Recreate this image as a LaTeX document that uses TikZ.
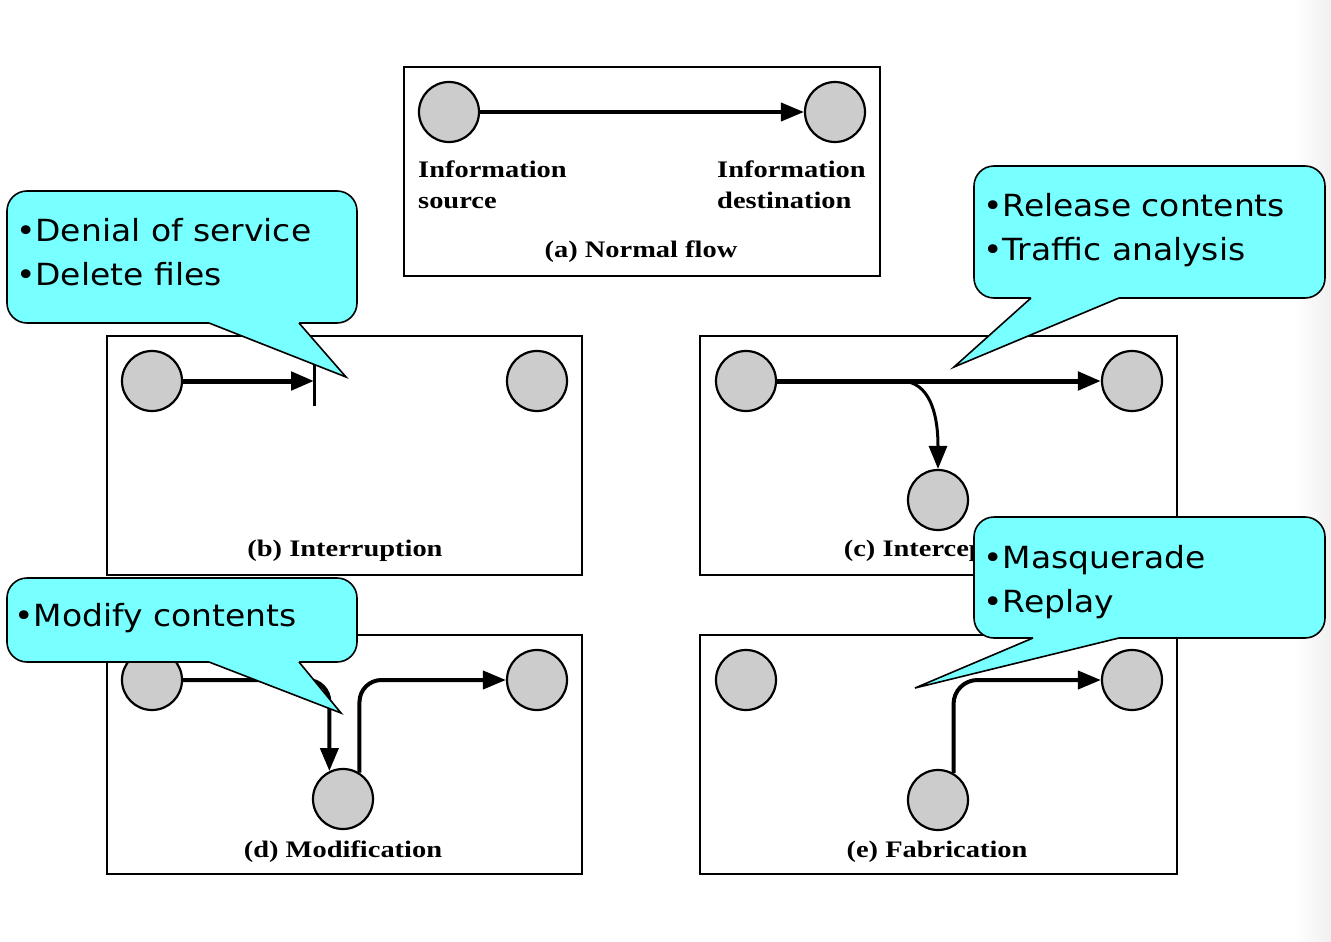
\documentclass[tikz,border=0pt]{standalone}
\usepackage{fontspec}
\usetikzlibrary{arrows.meta,shapes.geometric}
\newfontfamily\lblfont[FakeStretch=1.2]{Liberation Serif}
\newfontfamily\calfont[FakeStretch=1.08]{DejaVu Sans}
\definecolor{callcyan}{RGB}{120,255,255}
\definecolor{nodegray}{RGB}{204,204,204}
\begin{document}
\begin{tikzpicture}[x=1pt,y=-1pt,
  frame/.style={draw=black,line width=2.2pt},
  station/.style={circle,draw=black,line width=2.2pt,fill=nodegray,minimum size=60pt,inner sep=0pt},
  flow/.style={line width=4pt,-{Triangle[length=23pt,width=18pt]}},
  thickflow/.style={flow,line width=5pt},
  caption/.style={font=\lblfont\bfseries\fontsize{23.7}{31}\selectfont,inner sep=0pt},
  calltext/.style={font=\calfont\fontsize{30.5}{44}\selectfont,align=left,inner sep=0pt,anchor=base west},
  callbox/.style={draw=black,line width=1.6pt,fill=callcyan,rounded corners=20pt},
  callptr/.style={draw=black,line width=1.6pt,line join=miter},
]
\useasboundingbox (0,0) rectangle (1331,942);
\shade[left color=white,right color=gray!12] (1295,0) rectangle (1331,942);

% frames
\draw[frame] (404,67) rectangle (880,276);
\draw[frame] (107,336) rectangle (582,575);
\draw[frame] (700,336) rectangle (1177,575);
\draw[frame] (107,635) rectangle (582,874);
\draw[frame] (700,635) rectangle (1177,874);

% (a) normal flow
\node[station] (a1) at (449,112) {};
\node[station] (a2) at (835,112) {};
\draw[flow] (a1) -- (a2);
\node[caption,anchor=base west,align=left] (srcl) at (418,208.3) {Information\\source};
\node[caption,anchor=base west,align=left] (dstl) at (717,208.3) {Information\\destination};
\node[caption,anchor=base] (capa) at (641,257) {(a) Normal flow};

% (b) interruption
\node[station] (b1) at (152,381) {};
\node[station] (b2) at (537,381) {};
\coordinate (bstop) at (314,381);
\coordinate (bbartop) at (314,352);
\coordinate (bbarbot) at (314,406);
\draw[thickflow] (b1) -- (bstop);
\draw[line width=3pt] (bbartop) -- (bbarbot);
\node[caption,anchor=base] (capb) at (345,556.7) {(b) Interruption};

% (c) interception
\node[station] (c1) at (746,381) {};
\node[station] (c2) at (1132,381) {};
\node[station] (c3) at (938,500) {};
\coordinate (cj) at (903,381);
\draw[thickflow] (c1) -- (c2);
\draw[flow,line width=3pt] (cj) .. controls (928,383) and (938,410) .. (c3);
\node[caption,anchor=base] (capc) at (938,556.7) {(c) Interception};

% (d) modification
\node[station] (d1) at (152,680) {};
\node[station] (d2) at (537,680) {};
\node[station] (d3) at (343,799) {};
\draw[flow,rounded corners=22pt] (d1) -| (d3.116);
\draw[flow,rounded corners=22pt] (d3.58) |- (d2);
\node[caption,anchor=base] (capd) at (343,857) {(d) Modification};

% (e) fabrication
\node[station] (e1) at (746,680) {};
\node[station] (e2) at (1132,680) {};
\node[station] (e3) at (938,800) {};
\draw[flow,rounded corners=24pt] (e3.60) |- (e2);
\node[caption,anchor=base] (cape) at (937,857) {(e) Fabrication};

% callout 1
\draw[callbox] (7,191) rectangle (357,323);
\coordinate (p1a) at (209,323); \coordinate (p1b) at (299,323); \coordinate (p1t) at (346,377);
\fill[callcyan] (209,320) -- (p1a) -- (p1t) -- (p1b) -- (299,320) -- cycle;
\draw[callptr] (p1a) -- (p1t) -- (p1b);
\node[calltext] (t1) at (16,285.7) {•Denial of service\\•Delete files};

% callout 2
\draw[callbox] (974,166) rectangle (1325,298);
\coordinate (p2a) at (1031,298); \coordinate (p2b) at (1119,298); \coordinate (p2t) at (954,367);
\fill[callcyan] (1031,295) -- (p2a) -- (p2t) -- (p2b) -- (1119,295) -- cycle;
\draw[callptr] (p2a) -- (p2t) -- (p2b);
\node[calltext] (t2) at (983,260.7) {•Release contents\\•Traffic analysis};

% callout 3
\draw[callbox] (7,578) rectangle (357,662);
\coordinate (p3a) at (209,662); \coordinate (p3b) at (299,662); \coordinate (p3t) at (341,713);
\fill[callcyan] (209,659) -- (p3a) -- (p3t) -- (p3b) -- (299,659) -- cycle;
\draw[callptr] (p3a) -- (p3t) -- (p3b);
\node[calltext] (t3) at (14,626.7) {•Modify contents};

% callout 4
\draw[callbox] (974,517) rectangle (1325,638);
\coordinate (p4a) at (1033,638); \coordinate (p4b) at (1119,638); \coordinate (p4t) at (915,688);
\fill[callcyan] (1033,635) -- (p4a) -- (p4t) -- (p4b) -- (1119,635) -- cycle;
\draw[callptr] (p4a) -- (p4t) -- (p4b);
\node[calltext] (t4) at (983,612) {•Masquerade\\•Replay};
\end{tikzpicture}
\end{document}
